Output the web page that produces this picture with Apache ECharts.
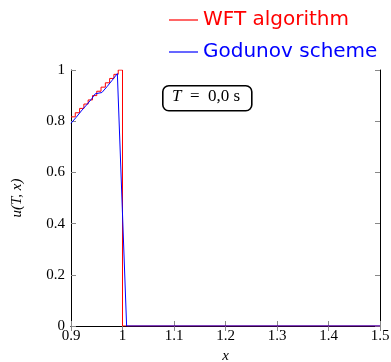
<!DOCTYPE html>
<html>
<head>
<meta charset="utf-8">
<script src="https://cdn.jsdelivr.net/npm/echarts@6/dist/echarts.min.js"></script>
<style>
html,body{margin:0;padding:0;background:#fff;}
#chart{width:391px;height:362px;}
</style>
</head>
<body>
<div id="chart"></div>
<script>
// ---- data ----
var seriesNames = ['WFT algorithm', 'Godunov scheme'];
var wftX = [0.9, 0.9083, 0.9167, 0.925, 0.9333, 0.9417, 0.95, 0.9583, 0.9667, 0.975, 0.9833, 0.9917, 1.0, 1.0, 1.5];
var wftU = [0.817, 0.833, 0.85, 0.867, 0.883, 0.9, 0.917, 0.933, 0.95, 0.967, 0.983, 1.0, 1.0, 0, 0];
var godX = [0.9, 0.91, 0.92, 0.93, 0.94, 0.947, 0.96, 0.97, 0.98, 0.99, 1.008, 1.5];
var godU = [0.792, 0.815, 0.84, 0.863, 0.887, 0.907, 0.912, 0.935, 0.96, 0.986, 0, 0];
var xTickValues = [0.9, 1.0, 1.1, 1.2, 1.3, 1.4, 1.5];
var xTickLabels = ['0.9', '1', '1.1', '1.2', '1.3', '1.4', '1.5'];
var yTickValues = [0, 0.2, 0.4, 0.6, 0.8, 1];
var yTickLabels = ['0', '0.2', '0.4', '0.6', '0.8', '1'];
var boxVar = 'T';
var boxRest = '  =  0,0 s';

function pairs(xs, ys) { return xs.map(function (x, i) { return [x, ys[i]]; }); }
function lab(values, labels) {
  return function (v) {
    for (var i = 0; i < values.length; i++) if (Math.abs(values[i] - v) < 1e-6) return labels[i];
    return '';
  };
}

var serif = '"Liberation Serif", "DejaVu Serif", serif';
var tickStyle = { show: true, inside: true, length: 5, lineStyle: { color: '#888', width: 1 } };
var lineStyle = { show: true, lineStyle: { color: '#000', width: 1 } };

var chart = echarts.init(document.getElementById('chart'));
chart.setOption({
  animation: false,
  backgroundColor: '#fff',
  grid: { left: 71, right: 11, top: 70, bottom: 36, containLabel: false, outerBoundsMode: 'none' },
  legend: {
    orient: 'vertical',
    left: 164,
    top: 4,
    itemWidth: 29,
    itemHeight: 1.2,
    itemGap: 10,
    icon: 'rect',
    textStyle: { fontFamily: '"DejaVu Sans", sans-serif', fontSize: 20, lineHeight: 22 },
    data: [
      { name: seriesNames[0], icon: 'rect', itemStyle: { color: '#ff0000' }, textStyle: { color: '#ff0000' } },
      { name: seriesNames[1], icon: 'rect', itemStyle: { color: '#0000ff' }, textStyle: { color: '#0000ff' } }
    ]
  },
  xAxis: [{
    type: 'value', min: 0.9, max: 1.5, interval: 0.1,
    axisLine: lineStyle, axisTick: tickStyle, splitLine: { show: false },
    axisLabel: { formatter: lab(xTickValues, xTickLabels), fontFamily: serif, fontSize: 15, color: '#000', margin: 3 },
    name: 'x', nameLocation: 'middle', nameGap: 22,
    nameTextStyle: { fontFamily: serif, fontStyle: 'italic', fontSize: 15, color: '#000' }
  }, {
    type: 'value', min: 0.9, max: 1.5, interval: 0.1, position: 'top',
    axisLine: lineStyle, axisTick: tickStyle, axisLabel: { show: false }, splitLine: { show: false }
  }],
  yAxis: [{
    type: 'value', min: 0, max: 1, interval: 0.2,
    axisLine: lineStyle, axisTick: tickStyle, splitLine: { show: false },
    axisLabel: { formatter: lab(yTickValues, yTickLabels), fontFamily: serif, fontSize: 15, color: '#000', margin: 6 },
    name: 'u(T, x)', nameLocation: 'middle', nameGap: 46, nameRotate: 90,
    nameTextStyle: { fontFamily: serif, fontStyle: 'italic', fontSize: 15, color: '#000' }
  }, {
    type: 'value', min: 0, max: 1, interval: 0.2, position: 'right',
    axisLine: lineStyle, axisTick: tickStyle, axisLabel: { show: false }, splitLine: { show: false }
  }],
  series: [{
    name: seriesNames[0], type: 'line', step: 'end', symbol: 'none',
    data: pairs(wftX, wftU),
    lineStyle: { color: '#ff0000', width: 1 }, itemStyle: { color: '#ff0000' }
  }, {
    name: seriesNames[1], type: 'line', symbol: 'none',
    data: pairs(godX, godU),
    lineStyle: { color: '#0000ff', width: 1 }, itemStyle: { color: '#0000ff' }
  }],
  graphic: [{
    type: 'rect', left: 162, top: 85,
    shape: { width: 89, height: 25, r: 6 },
    style: { fill: '#fff', stroke: '#000', lineWidth: 1.6 }, z: 100
  }, {
    type: 'text', left: 172, top: 88, z: 101,
    style: {
      text: '{i|' + boxVar + '}{r|' + boxRest + '}',
      rich: {
        i: { fontFamily: serif, fontStyle: 'italic', fontSize: 17, fill: '#000' },
        r: { fontFamily: serif, fontSize: 17, fill: '#000' }
      },
      fill: '#000'
    }
  }]
});
</script>
</body>
</html>
